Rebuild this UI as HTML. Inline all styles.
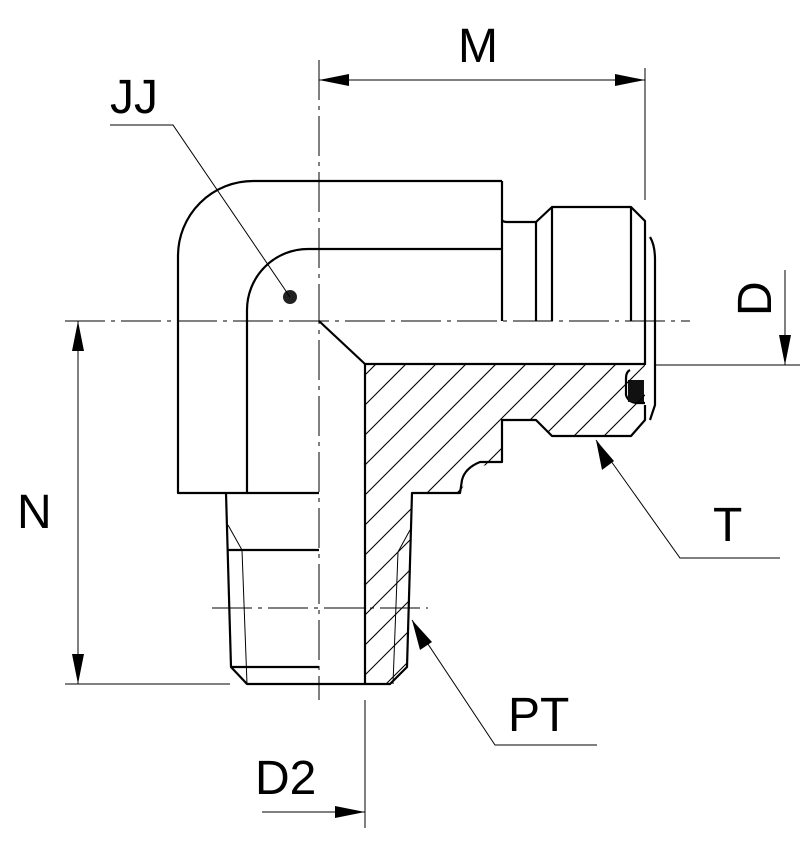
<!DOCTYPE html>
<html><head><style>html,body{margin:0;padding:0;background:#fff}svg{display:block}</style></head><body>
<svg width="805" height="856" viewBox="0 0 805 856" xmlns="http://www.w3.org/2000/svg">
<defs>
<clipPath id="h"><path d="M365,364 L645,364 L645,420 L631,436 L552,436 L536,420 L502,420 L502,462 L472,468 L460,493 L412,493 L407,667 L390,684 L365,684 Z"/></clipPath>
</defs>
<g fill="none" stroke="#000" stroke-width="2.2" stroke-linejoin="round">
<path d="M502,181 L253,181 A75,75 0 0 0 178,256 L178,493 L319,493"/>
<path d="M247,493 L247,310 A61,61 0 0 1 308,249 L502,249"/>
<path d="M502,181 L502,321"/>
<path d="M502,220 Q503,222 507,222 L536,222 L552,207 L631,207 L645,221 L645,365"/>
<path d="M536,222 L536,321 M552,207 L552,321 M631,207 L631,321"/>
<path d="M650,237 Q655,245 655,260 L655,405 L650,420"/>
<path d="M319,321 L365,364 L645,364"/>
<path d="M365,364 L365,684"/>
<path d="M645,405 L645,420 L631,436 L552,436 L536,420 L502,420 L502,462 L480,462 Q465,468 462,480 L460,493 L412,493 L407,667 L390,684 L247,684 L231,667 L226,493"/>
<path d="M228,550 L319,550 M231,667 L319,667"/>
<path d="M630,370 Q626,372 626,378 L626,395 Q628,402 636,403 L645,403"/>
</g>
<rect x="628" y="380" width="16" height="22" fill="#111"/>
<g stroke="#000" stroke-width="1" fill="none">
<path d="M228,525 L242,550 L247,684 M410,530 L398,552 L393,684"/>
</g>
<g clip-path="url(#h)" stroke="#000" stroke-width="1.1">
<path d="M250,700 L630,320 M280,700 L660,320 M310,700 L690,320 M340,700 L720,320 M370,700 L750,320 M400,700 L780,320 M220,700 L600,320 M190,700 L570,320 M160,700 L540,320 M130,700 L510,320 M100,700 L480,320 M70,700 L450,320 M40,700 L420,320 M10,700 L390,320"/>
</g>
<circle cx="290" cy="297" r="7" fill="#222"/>
<g stroke="#000" stroke-width="1" fill="none">
<path d="M319,60 L319,700" stroke-dasharray="40,6,4,6"/>
<path d="M65,321 L690,321" stroke-dasharray="40,6,4,6"/>
<path d="M212,608 L428,608" stroke-dasharray="40,6,4,6"/>
<path d="M645,68 L645,200 M319,80 L645,80"/>
<path d="M655,365 L800,365 M785,270 L785,365"/>
<path d="M65,684 L230,684 M78,321 L78,684"/>
<path d="M365,700 L365,828 M262,812 L365,812"/>
<path d="M110,125 L173,125 L290,297"/>
<path d="M596,440 L680,558 L780,558"/>
<path d="M412,620 L495,745 L597,745"/>
</g>
<g fill="#000">
<path d="M319,80 L349,74 L349,86 Z M645,80 L615,74 L615,86 Z"/>
<path d="M785,365 L779,335 L791,335 Z"/>
<path d="M78,321 L72,351 L84,351 Z M78,684 L72,654 L84,654 Z"/>
<path d="M365,812 L335,806 L335,818 Z"/>
<path d="M596,440 L602,470 L614,461 Z"/>
<path d="M412,620 L420,650 L432,642 Z"/>
</g>
<g font-family="Liberation Sans, sans-serif" font-size="48" fill="#000">
<text x="458" y="62">M</text>
<text x="110" y="113">JJ</text>
<text x="17" y="528">N</text>
<text x="713" y="541">T</text>
<text x="508" y="731">PT</text>
<text x="255" y="794">D2</text>
<text transform="translate(771,316) rotate(-90)">D</text>
</g>
</svg>
</body></html>
